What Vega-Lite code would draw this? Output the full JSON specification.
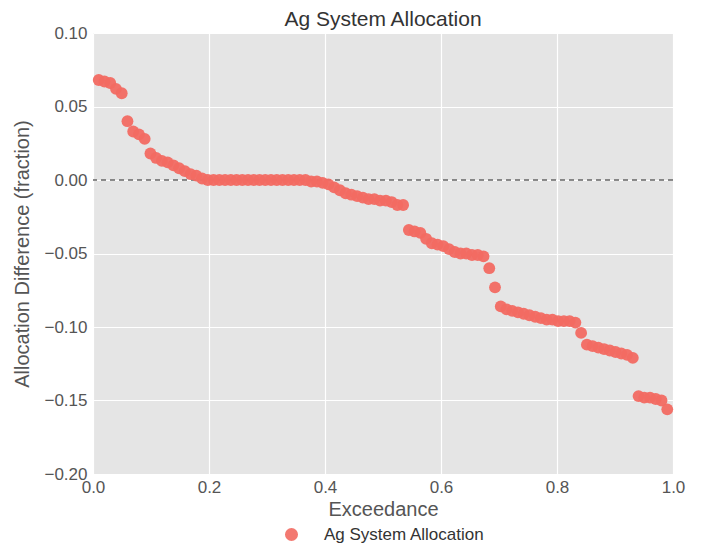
{
  "$schema": "https://vega.github.io/schema/vega-lite/v6.json",
  "autosize": {"type": "none"},
  "width": 580,
  "height": 441,
  "padding": {"left": 93, "top": 33, "right": 31, "bottom": 74},
  "background": "white",
  "title": {"text": "Ag System Allocation", "fontSize": 21, "font": "Liberation Sans", "fontWeight": "normal", "color": "#333333", "offset": 7, "dy": 13, "frame": "group"},
  "config": {
    "view": {"fill": "#E5E5E5", "stroke": null},
    "axis": {"gridColor": "white", "gridWidth": 1.2, "domain": false, "ticks": false, "labelFont": "Liberation Sans", "titleFont": "Liberation Sans", "labelFontSize": 17, "titleFontSize": 20, "labelColor": "#555555", "titleColor": "#555555", "titleFontWeight": "normal", "labelFlush": false, "labelOverlap": false},
    "legend": {"labelFont": "Liberation Sans", "labelFontSize": 17, "labelColor": "#333333", "labelLimit": 400}
  },
  "datasets": {
    "pts": [
      {"exceedance": 0.0099, "diff": 0.068}, {"exceedance": 0.0198, "diff": 0.067}, {"exceedance": 0.0297, "diff": 0.066}, {"exceedance": 0.0396, "diff": 0.062}, {"exceedance": 0.0495, "diff": 0.059},
      {"exceedance": 0.0594, "diff": 0.040}, {"exceedance": 0.0693, "diff": 0.033}, {"exceedance": 0.0792, "diff": 0.031}, {"exceedance": 0.0891, "diff": 0.028}, {"exceedance": 0.0990, "diff": 0.018},
      {"exceedance": 0.1089, "diff": 0.015}, {"exceedance": 0.1188, "diff": 0.013}, {"exceedance": 0.1287, "diff": 0.012}, {"exceedance": 0.1386, "diff": 0.010}, {"exceedance": 0.1485, "diff": 0.008},
      {"exceedance": 0.1584, "diff": 0.006}, {"exceedance": 0.1683, "diff": 0.004}, {"exceedance": 0.1782, "diff": 0.003}, {"exceedance": 0.1881, "diff": 0.001}, {"exceedance": 0.1980, "diff": 0.0},
      {"exceedance": 0.2079, "diff": 0.0}, {"exceedance": 0.2178, "diff": 0.0}, {"exceedance": 0.2277, "diff": 0.0}, {"exceedance": 0.2376, "diff": 0.0}, {"exceedance": 0.2475, "diff": 0.0},
      {"exceedance": 0.2574, "diff": 0.0}, {"exceedance": 0.2673, "diff": 0.0}, {"exceedance": 0.2772, "diff": 0.0}, {"exceedance": 0.2871, "diff": 0.0}, {"exceedance": 0.2970, "diff": 0.0},
      {"exceedance": 0.3069, "diff": 0.0}, {"exceedance": 0.3168, "diff": 0.0}, {"exceedance": 0.3267, "diff": 0.0}, {"exceedance": 0.3366, "diff": 0.0}, {"exceedance": 0.3465, "diff": 0.0},
      {"exceedance": 0.3564, "diff": 0.0}, {"exceedance": 0.3663, "diff": 0.0}, {"exceedance": 0.3762, "diff": -0.001}, {"exceedance": 0.3861, "diff": -0.001}, {"exceedance": 0.3960, "diff": -0.002},
      {"exceedance": 0.4059, "diff": -0.003}, {"exceedance": 0.4158, "diff": -0.005}, {"exceedance": 0.4257, "diff": -0.007}, {"exceedance": 0.4356, "diff": -0.009}, {"exceedance": 0.4455, "diff": -0.010},
      {"exceedance": 0.4554, "diff": -0.011}, {"exceedance": 0.4653, "diff": -0.012}, {"exceedance": 0.4752, "diff": -0.013}, {"exceedance": 0.4851, "diff": -0.013}, {"exceedance": 0.4950, "diff": -0.014},
      {"exceedance": 0.5050, "diff": -0.014}, {"exceedance": 0.5149, "diff": -0.015}, {"exceedance": 0.5248, "diff": -0.017}, {"exceedance": 0.5347, "diff": -0.017}, {"exceedance": 0.5446, "diff": -0.034},
      {"exceedance": 0.5545, "diff": -0.035}, {"exceedance": 0.5644, "diff": -0.036}, {"exceedance": 0.5743, "diff": -0.040}, {"exceedance": 0.5842, "diff": -0.043}, {"exceedance": 0.5941, "diff": -0.044},
      {"exceedance": 0.6040, "diff": -0.045}, {"exceedance": 0.6139, "diff": -0.047}, {"exceedance": 0.6238, "diff": -0.049}, {"exceedance": 0.6337, "diff": -0.050}, {"exceedance": 0.6436, "diff": -0.050},
      {"exceedance": 0.6535, "diff": -0.051}, {"exceedance": 0.6634, "diff": -0.051}, {"exceedance": 0.6733, "diff": -0.052}, {"exceedance": 0.6832, "diff": -0.060}, {"exceedance": 0.6931, "diff": -0.073},
      {"exceedance": 0.7030, "diff": -0.086}, {"exceedance": 0.7129, "diff": -0.088}, {"exceedance": 0.7228, "diff": -0.089}, {"exceedance": 0.7327, "diff": -0.090}, {"exceedance": 0.7426, "diff": -0.091},
      {"exceedance": 0.7525, "diff": -0.092}, {"exceedance": 0.7624, "diff": -0.093}, {"exceedance": 0.7723, "diff": -0.094}, {"exceedance": 0.7822, "diff": -0.095}, {"exceedance": 0.7921, "diff": -0.095},
      {"exceedance": 0.8020, "diff": -0.096}, {"exceedance": 0.8119, "diff": -0.096}, {"exceedance": 0.8218, "diff": -0.096}, {"exceedance": 0.8317, "diff": -0.097}, {"exceedance": 0.8416, "diff": -0.104},
      {"exceedance": 0.8515, "diff": -0.112}, {"exceedance": 0.8614, "diff": -0.113}, {"exceedance": 0.8713, "diff": -0.114}, {"exceedance": 0.8812, "diff": -0.115}, {"exceedance": 0.8911, "diff": -0.116},
      {"exceedance": 0.9010, "diff": -0.117}, {"exceedance": 0.9109, "diff": -0.118}, {"exceedance": 0.9208, "diff": -0.119}, {"exceedance": 0.9307, "diff": -0.121}, {"exceedance": 0.9406, "diff": -0.147},
      {"exceedance": 0.9505, "diff": -0.148}, {"exceedance": 0.9604, "diff": -0.148}, {"exceedance": 0.9703, "diff": -0.149}, {"exceedance": 0.9802, "diff": -0.150}, {"exceedance": 0.9901, "diff": -0.156}
    ],
    "zero": [{"y": 0}]
  },
  "layer": [
    {
      "data": {"name": "zero"},
      "mark": {"type": "rule", "color": "#666666", "strokeWidth": 1.5, "strokeDash": [5, 4]},
      "encoding": {"y": {"field": "y", "type": "quantitative", "scale": {"domain": [-0.2, 0.1]}}}
    },
    {
      "data": {"name": "pts"},
      "transform": [{"calculate": "'Ag System Allocation'", "as": "series"}],
      "mark": {"type": "circle", "size": 140, "opacity": 0.95},
      "encoding": {
        "x": {"field": "exceedance", "type": "quantitative", "title": "Exceedance", "scale": {"domain": [0, 1], "nice": false}, "axis": {"values": [0, 0.2, 0.4, 0.6, 0.8, 1.0], "format": ".1f", "labelPadding": 5, "titlePadding": 4}},
        "y": {"field": "diff", "type": "quantitative", "title": "Allocation Difference (fraction)", "scale": {"domain": [-0.2, 0.1], "nice": false}, "axis": {"values": [-0.2, -0.15, -0.1, -0.05, 0, 0.05, 0.1], "format": ".2f", "labelPadding": 6, "titlePadding": 11}},
        "color": {"field": "series", "type": "nominal", "scale": {"range": ["#F26A62"]}, "legend": {"title": null, "orient": "none", "legendX": 190, "legendY": 493, "symbolType": "circle", "symbolSize": 170, "labelOffset": 24, "symbolOpacity": 0.9}}
      }
    }
  ]
}
